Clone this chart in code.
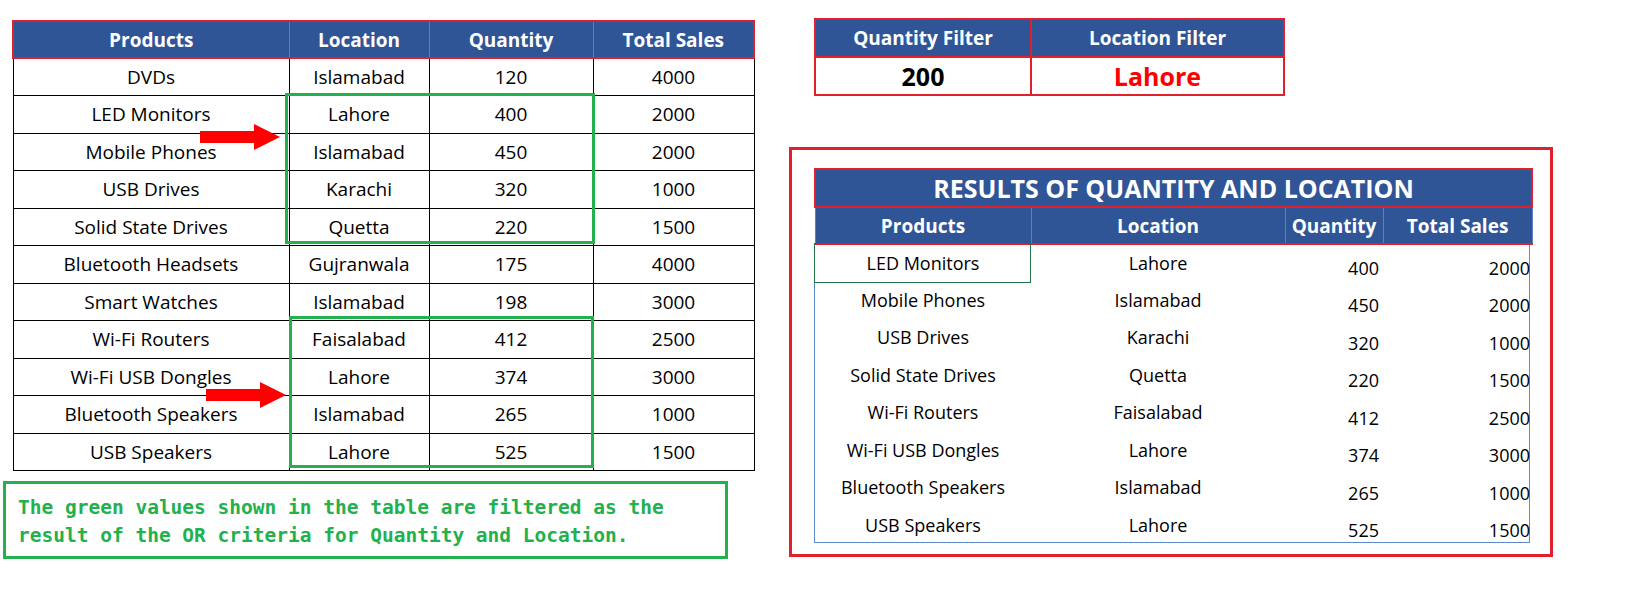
<!DOCTYPE html>
<html><head><meta charset="utf-8">
<script src="https://cdn.jsdelivr.net/npm/chart.js@4"></script>
<style>
body{margin:0;width:1633px;height:595px;background:#fff;font-family:"Open Sans","Liberation Sans",sans-serif;position:relative;overflow:hidden}
.a{position:absolute;box-sizing:border-box}
table{border-collapse:collapse;position:absolute;table-layout:fixed}
td,th{padding:0;text-align:center;font-size:19px;color:#000;white-space:nowrap;overflow:hidden}
th{background:#2F5597;color:#fff;font-weight:bold}
#main td{border:1px solid #000}
#main th{border:1px solid #5b7fc0;border-top:2px solid #e0202a;border-bottom:2px solid #e0202a}
#main th:first-child{border-left:2px solid #e0202a}#main th:last-child{border-right:2px solid #e0202a}
#filt td{border:2px solid #e0202a;font-weight:bold;font-size:25px}
#filt th{border:2px solid #e0202a}
#res th{border:1px solid #5b7fc0;border-bottom:2px solid #e0202a}
#res td{font-size:18px}
</style></head><body>
<script>
const products=["DVDs","LED Monitors","Mobile Phones","USB Drives","Solid State Drives","Bluetooth Headsets","Smart Watches","Wi-Fi Routers","Wi-Fi USB Dongles","Bluetooth Speakers","USB Speakers"];
const locations=["Islamabad","Lahore","Islamabad","Karachi","Quetta","Gujranwala","Islamabad","Faisalabad","Lahore","Islamabad","Lahore"];
const quantities=[120,400,450,320,220,175,198,412,374,265,525];
const totalSales=[4000,2000,2000,1000,1500,4000,3000,2500,3000,1000,1500];
const headers=["Products","Location","Quantity","Total Sales"];
const quantityFilter=200, locationFilter="Lahore";
const note="The green values shown in the table are filtered as the<br>result of the OR criteria for Quantity and Location.";

function el(h){document.body.insertAdjacentHTML('beforeend',h);}
// main table
let h='<table id="main" style="left:12px;top:20px;width:741px"><colgroup><col style="width:276px"><col style="width:140px"><col style="width:164px"><col style="width:161px"></colgroup><tr style="height:37px">'+headers.map(x=>'<th>'+x+'</th>').join('')+'</tr>';
products.forEach((p,i)=>{h+='<tr style="height:37.5px"><td>'+p+'</td><td>'+locations[i]+'</td><td>'+quantities[i]+'</td><td>'+totalSales[i]+'</td></tr>';});
el(h+'</table>');
el('<div class="a" style="left:285px;top:93px;width:310px;height:151px;border:3px solid #22b14c"></div>');
el('<div class="a" style="left:289px;top:316px;width:305px;height:152px;border:3px solid #22b14c"></div>');
function arrow(x,y){el('<div class="a" style="left:'+x+'px;top:'+(y-6)+'px;width:55px;height:12px;background:#f00"></div><div class="a" style="left:'+(x+54)+'px;top:'+(y-13)+'px;width:0;height:0;border-top:13px solid transparent;border-bottom:13px solid transparent;border-left:26px solid #f00"></div>');}
arrow(200,137);arrow(206,395);
// filter
el('<table id="filt" style="left:814px;top:18px;width:469px"><colgroup><col style="width:216px"><col style="width:253px"></colgroup><tr style="height:38px"><th>Quantity Filter</th><th>Location Filter</th></tr><tr style="height:38px"><td>'+quantityFilter+'</td><td style="color:#f00">'+locationFilter+'</td></tr></table>');
// results
el('<div class="a" style="left:789px;top:147px;width:764px;height:410px;border:3px solid #e0202a"></div>');
el('<div class="a" style="left:814px;top:243px;width:716px;height:300px;border:1px solid #5b8ad0;border-top:none"></div>');
let r='<table id="res" style="left:814px;top:168px;width:717px"><colgroup><col style="width:216px"><col style="width:254px"><col style="width:98px"><col style="width:149px"></colgroup><tr style="height:38px"><th colspan="4" style="font-size:25px;border:2px solid #e0202a">RESULTS OF QUANTITY AND LOCATION</th></tr><tr style="height:37px">'+headers.map(x=>'<th>'+x+'</th>').join('')+'</tr>';
products.forEach((p,i)=>{ if(quantities[i]>quantityFilter||locations[i]===locationFilter){ if(p==="DVDs")return;
 r+='<tr style="height:37.5px"><td style="vertical-align:top;padding-top:6px">'+p+'</td><td style="vertical-align:top;padding-top:6px">'+locations[i]+'</td><td style="text-align:right;padding-right:4px;padding-top:10px">'+quantities[i]+'</td><td style="text-align:right;padding-right:2px;padding-top:10px">'+totalSales[i]+'</td></tr>';}});
el(r+'</table>');
el('<div class="a" style="left:814px;top:243px;width:217px;height:40px;border:1px solid #217346"></div>');
el('<div class="a" style="left:3px;top:481px;width:725px;height:78px;border:3px solid #22b14c;padding:10px 0 0 12px;font-family:\'DejaVu Sans Mono\',monospace;font-weight:bold;font-size:19.5px;line-height:28px;color:#22b14c">'+note+'</div>');
</script>
</body></html>
